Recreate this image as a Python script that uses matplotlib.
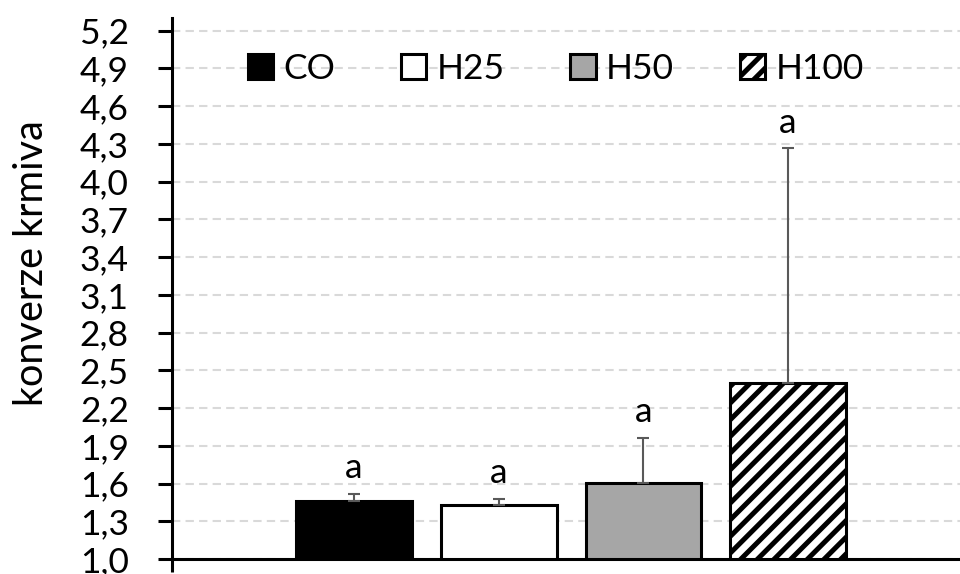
import numpy as np
import matplotlib
matplotlib.use('Agg')
import matplotlib.pyplot as plt
from matplotlib.ticker import FuncFormatter

# data
groups = ['CO', 'H25', 'H50', 'H100']
means = [1.46, 1.43, 1.605, 2.40]
sd_up = [0.06, 0.05, 0.36, 1.865]
letters = ['a', 'a', 'a', 'a']
yticks = [1.0, 1.3, 1.6, 1.9, 2.2, 2.5, 2.8, 3.1, 3.4, 3.7, 4.0, 4.3, 4.6, 4.9, 5.2]

fills = ['black', 'white', '#a6a6a6', 'white']
hatches = [None, None, None, '//']

plt.rcParams['font.family'] = ['Lato', 'DejaVu Sans']
plt.rcParams['hatch.linewidth'] = 3.6
plt.rcParams['hatch.color'] = 'black'

fig = plt.figure(figsize=(9.6, 5.74), dpi=100)
ax = fig.add_axes([0.1792, 0.0261, 0.8208, 0.9425])

x = np.arange(len(groups))
fs = 25.5

ax.set_axisbelow(True)
ax.yaxis.grid(True, color='#d9d9d9', lw=1.5, ls=(0, (4, 2.5)))

bars = ax.bar(x, means, width=0.8, color=fills, edgecolor='black', lw=2.2,
              zorder=2)
for b, h, g in zip(bars, hatches, groups):
    if h:
        b.set_hatch(h)
    b.set_label(g)

ax.errorbar(x, means, yerr=[np.zeros(len(x)), sd_up], fmt='none',
            ecolor='#595959', elinewidth=1.5, capsize=4, capthick=1.5, zorder=3)

for xi, m, s, t in zip(x, means, sd_up, letters):
    ax.annotate(t, (xi, m + s), xytext=(0, 11), textcoords='offset points',
                ha='center', va='baseline', fontsize=fs)

ax.set_ylim(1.0, 5.3)
ax.set_xlim(-1.258, 4.188)
ax.set_yticks(yticks)
ax.yaxis.set_major_formatter(FuncFormatter(lambda v, p: f'{v:.1f}'.replace('.', ',')))
ax.tick_params(axis='y', direction='out', length=10, width=2.2, pad=21, labelsize=fs)
ax.set_xticks([-1.258])
ax.set_xticklabels([])
ax.tick_params(axis='x', direction='out', length=9, width=2.2)

for s in ['top', 'right']:
    ax.spines[s].set_visible(False)
for s in ['left', 'bottom']:
    ax.spines[s].set_linewidth(2.2)

ax.set_ylabel('konverze krmiva', fontsize=28.5)
ax.yaxis.set_label_coords(-0.155, 0.547)

ax.legend(loc='center', bbox_to_anchor=(0.487, 0.906), ncol=4, frameon=False,
          fontsize=fs, handlelength=0.71, handleheight=0.71, handletextpad=0.3,
          columnspacing=1.85, borderpad=0)

fig.savefig('out.png', dpi=100)
